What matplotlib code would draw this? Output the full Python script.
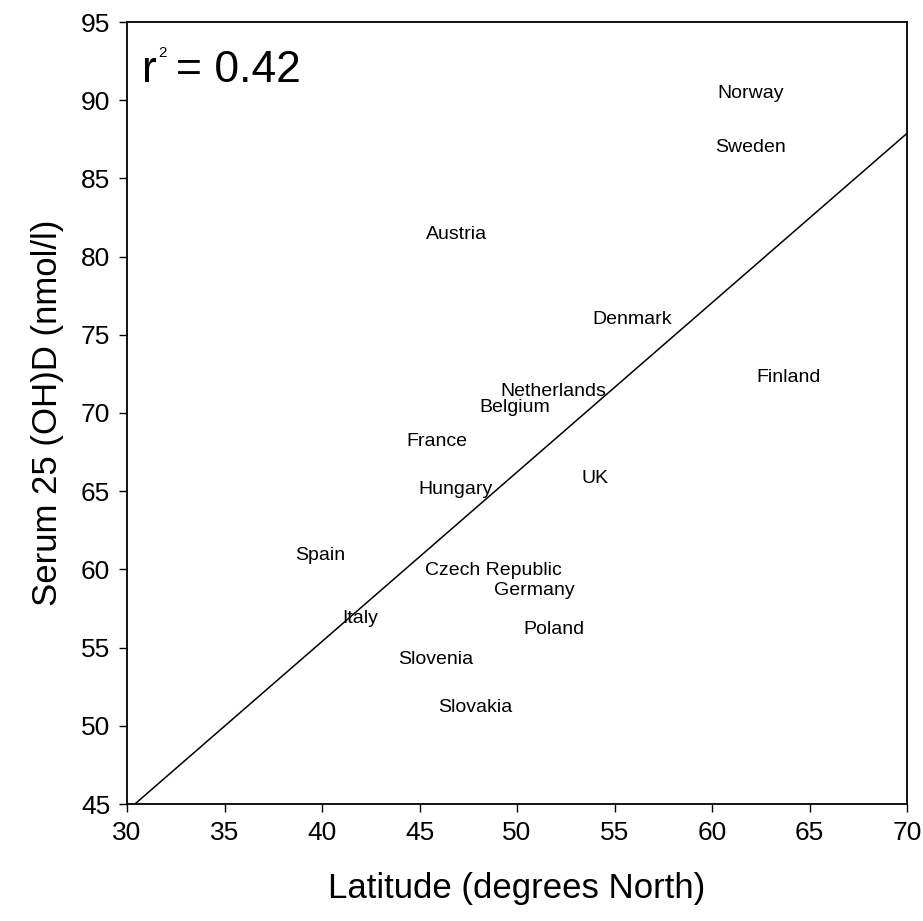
import matplotlib
matplotlib.use("Agg")
import matplotlib.pyplot as plt
import numpy as np

plt.rcParams['font.family'] = ['Liberation Sans', 'DejaVu Sans']

countries = ["Norway", "Sweden", "Austria", "Denmark", "Finland", "Netherlands",
             "Belgium", "France", "UK", "Hungary", "Spain", "Czech Republic",
             "Germany", "Italy", "Poland", "Slovenia", "Slovakia"]
latitude = [62.0, 62.0, 46.9, 55.9, 63.95, 51.85, 49.9, 45.9, 54.0, 46.87, 39.9,
            48.79, 50.87, 41.95, 51.9, 45.85, 47.85]
vitd = [90.4, 86.95, 81.4, 75.95, 72.3, 71.37, 70.32, 68.15, 65.84, 65.08, 60.92,
        59.9, 58.68, 56.89, 56.13, 54.27, 51.2]
fit_slope = 1.083
fit_intercept = 12.07
fit_x = [30.4, 70.0]
r_value_text = "0.42"
xticks = [30, 35, 40, 45, 50, 55, 60, 65, 70]
yticks = [45, 50, 55, 60, 65, 70, 75, 80, 85, 90, 95]

fig = plt.figure(figsize=(9.23, 9.21), dpi=100)
ax = fig.add_axes([127/923, 1 - 804/921, 780/923, 782/921])
ax.set_xlim(30, 70)
ax.set_ylim(45, 95)

fx = np.array(fit_x)
ax.plot(fx, fit_slope * fx + fit_intercept, color='black', lw=1.1)

for c, x, y in zip(countries, latitude, vitd):
    ax.text(x, y, c, ha='center', va='center', fontsize=14)

# r^2 annotation (positions in axes fraction)
ax.text(15/780, 1 - 60/782, "r", transform=ax.transAxes, ha='left', va='baseline', fontsize=32)
ax.text(31/780, 1 - 35/782, "2", transform=ax.transAxes, ha='left', va='baseline', fontsize=11)
ax.text(49/780, 1 - 60/782, "= " + r_value_text, transform=ax.transAxes, ha='left', va='baseline', fontsize=32)

ax.set_xticks(xticks)
ax.set_yticks(yticks)
ax.tick_params(direction='out', length=6, width=1, labelsize=19, pad=6)
for s in ax.spines.values():
    s.set_linewidth(1.3)

ax.set_xlabel("Latitude (degrees North)", fontsize=25, labelpad=20)
ax.set_ylabel("Serum 25 (OH)D (nmol/l)", fontsize=25, labelpad=12)

fig.savefig("out.png", dpi=100)
